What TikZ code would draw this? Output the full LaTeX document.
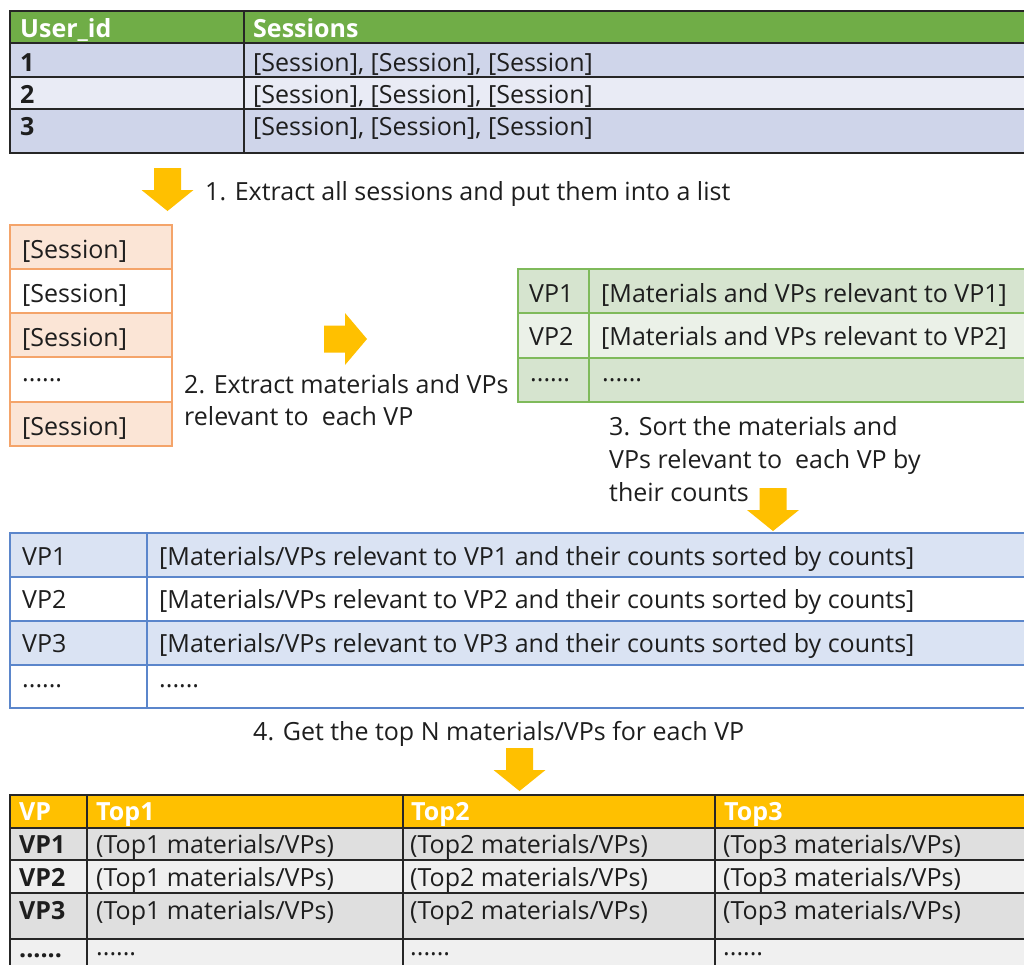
\documentclass[tikz,border=0pt]{standalone}
\usepackage{fontspec}
\setmainfont{Open Sans}
\definecolor{hdrgreen}{HTML}{70AD47}
\definecolor{tblueA}{HTML}{CFD5EA}
\definecolor{tblueB}{HTML}{E9EBF5}
\definecolor{lorange}{HTML}{FBE5D6}
\definecolor{borange}{HTML}{F4A46A}
\definecolor{arrowy}{HTML}{FFC000}
\definecolor{ggreenA}{HTML}{D6E4CF}
\definecolor{ggreenB}{HTML}{EBF1E8}
\definecolor{bgreen}{HTML}{7FBA5B}
\definecolor{bblueA}{HTML}{DAE3F3}
\definecolor{bblue}{HTML}{5B86CB}
\definecolor{grayA}{HTML}{DFDFDF}
\definecolor{grayB}{HTML}{F0F0F0}
\definecolor{ink}{HTML}{1E1E1E}
\tikzset{
  txt/.style={anchor=base west, inner sep=0pt, text=ink, font=\fontsize{25}{29}\selectfont},
  btxt/.style={txt, font=\fontsize{25}{29}\selectfont\bfseries},
  htxt/.style={btxt, text=white},
  blackline/.style={draw=black!85, line width=1.4pt},
  orangeline/.style={draw=borange, line width=1.6pt},
  greenline/.style={draw=bgreen, line width=1.3pt},
  blueline/.style={draw=bblue, line width=1.3pt},
  downarrow/.pic={\fill[arrowy] (-13.5,0) -- (13.5,0) -- (13.5,22) -- (26,22) -- (0,43) -- (-26,22) -- (-13.5,22) -- cycle;},
  rightarrow/.pic={\fill[arrowy] (0,-13.5) -- (21,-13.5) -- (21,-26) -- (43,0) -- (21,26) -- (21,13.5) -- (0,13.5) -- cycle;}
}
\begin{document}
\begin{tikzpicture}[x=1pt,y=-1pt]
\path[use as bounding box] (0,0) rectangle (1024,964);
\clip (0,0) rectangle (1024,964);
\fill[white] (0,0) rectangle (1024,964);

% ---------- top table ----------
\fill[hdrgreen] (10,11) rectangle (1030,43);
\fill[tblueA] (10,43) rectangle (1030,77);
\fill[tblueB] (10,77) rectangle (1030,109);
\fill[tblueA] (10,109) rectangle (1030,153);
\draw[blackline] (10,11) rectangle (1030,153);
\draw[blackline] (10,43) -- (1030,43) (10,77) -- (1030,77) (10,109) -- (1030,109) (244,11) -- (244,153);
\node[htxt] (uid) at (20,37) {User\_id};
\node[htxt] (sess) at (253,37) {Sessions};
\node[btxt] (u1) at (20,71) {1};
\node[btxt] (u2) at (20,103) {2};
\node[btxt] (u3) at (20,135) {3};
\node[txt] (s1) at (253,71) {[Session], [Session], [Session]};
\node[txt] (s2) at (253,103) {[Session], [Session], [Session]};
\node[txt] (s3) at (253,135) {[Session], [Session], [Session]};

% ---------- step 1 ----------
\pic (a1) at (167.5,168) {downarrow};
\node[txt] (step1) at (205,200) {1. Extract all sessions and put them into a list};

% ---------- list ----------
\fill[lorange] (10,225) rectangle (172,269);
\fill[lorange] (10,313) rectangle (172,357);
\fill[lorange] (10,402) rectangle (172,446);
\draw[orangeline] (10,225) rectangle (172,446);
\draw[orangeline] (10,269) -- (172,269) (10,313) -- (172,313) (10,357) -- (172,357) (10,402) -- (172,402);
\node[txt] (l1) at (22,258) {[Session]};
\node[txt] (l2) at (22,302) {[Session]};
\node[txt] (l3) at (22,346) {[Session]};
\node[txt] (l4) at (22,381) {......};
\node[txt] (l5) at (22,435) {[Session]};

% ---------- step 2 ----------
\pic (a2) at (324,339) {rightarrow};
\node[txt] (step2a) at (184,393) {2. Extract materials and VPs};
\node[txt] (step2b) at (184,425) {relevant to\ \ each VP};

% ---------- green table ----------
\fill[ggreenA] (518,269) rectangle (1030,313);
\fill[ggreenB] (518,313) rectangle (1030,358);
\fill[ggreenA] (518,358) rectangle (1030,402);
\draw[greenline] (518,269) rectangle (1030,402);
\draw[greenline] (518,313) -- (1030,313) (518,358) -- (1030,358) (589,269) -- (589,402);
\node[txt] (g1a) at (529,302) {VP1};
\node[txt] (g1b) at (601,302) {[Materials and VPs relevant to VP1]};
\node[txt] (g2a) at (529,345) {VP2};
\node[txt] (g2b) at (601,345) {[Materials and VPs relevant to VP2]};
\node[txt] (g3a) at (530,381) {......};
\node[txt] (g3b) at (602,381) {......};

% ---------- step 3 ----------
\node[txt] (step3a) at (609,435) {3. Sort the materials and};
\node[txt] (step3b) at (609,468) {VPs relevant to\ \ each VP by};
\node[txt] (step3c) at (609,501) {their counts};
\pic (a3) at (773,488) {downarrow};

% ---------- blue table ----------
\fill[bblueA] (10,533) rectangle (1030,577);
\fill[bblueA] (10,621) rectangle (1030,665);
\draw[blueline] (10,533) rectangle (1030,708);
\draw[blueline] (10,577) -- (1030,577) (10,621) -- (1030,621) (10,665) -- (1030,665) (147,533) -- (147,708);
\node[txt] (b1a) at (22,565) {VP1};
\node[txt] (b1b) at (159,565) {[Materials/VPs relevant to VP1 and their counts sorted by counts]};
\node[txt] (b2a) at (22,608) {VP2};
\node[txt] (b2b) at (159,608) {[Materials/VPs relevant to VP2 and their counts sorted by counts]};
\node[txt] (b3a) at (22,652) {VP3};
\node[txt] (b3b) at (159,652) {[Materials/VPs relevant to VP3 and their counts sorted by counts]};
\node[txt] (b4a) at (22,687) {......};
\node[txt] (b4b) at (159,687) {......};

% ---------- step 4 ----------
\node[txt] (step4) at (253,740) {4. Get the top N materials/VPs for each VP};
\pic (a4) at (519.5,748) {downarrow};

% ---------- bottom table ----------
\fill[arrowy] (10,795) rectangle (1030,828);
\fill[grayA] (10,828) rectangle (1030,860);
\fill[grayB] (10,860) rectangle (1030,893);
\fill[grayA] (10,893) rectangle (1030,939);
\fill[grayB] (10,939) rectangle (1030,980);
\draw[blackline] (10,795) rectangle (1030,980);
\draw[blackline] (10,828) -- (1030,828) (10,860) -- (1030,860) (10,893) -- (1030,893) (10,939) -- (1030,939)
  (87,795) -- (87,980) (403,795) -- (403,980) (715,795) -- (715,980);
\node[htxt] (hvp) at (19,820) {VP};
\node[htxt] (ht1) at (96,820) {Top1};
\node[htxt] (ht2) at (411,820) {Top2};
\node[htxt] (ht3) at (724,820) {Top3};
\foreach \r/\y in {1/853,2/886,3/919}{
  \node[btxt] (rvp\r) at (19,\y) {VP\r};
  \node[txt] (r\r t1) at (96,\y) {(Top1 materials/VPs)};
  \node[txt] (r\r t2) at (410,\y) {(Top2 materials/VPs)};
  \node[txt] (r\r t3) at (723,\y) {(Top3 materials/VPs)};
}
\node[btxt] (r4vp) at (19,957) {......};
\node[txt] (r4t1) at (96,955) {......};
\node[txt] (r4t2) at (410,955) {......};
\node[txt] (r4t3) at (723,955) {......};
\end{tikzpicture}
\end{document}
